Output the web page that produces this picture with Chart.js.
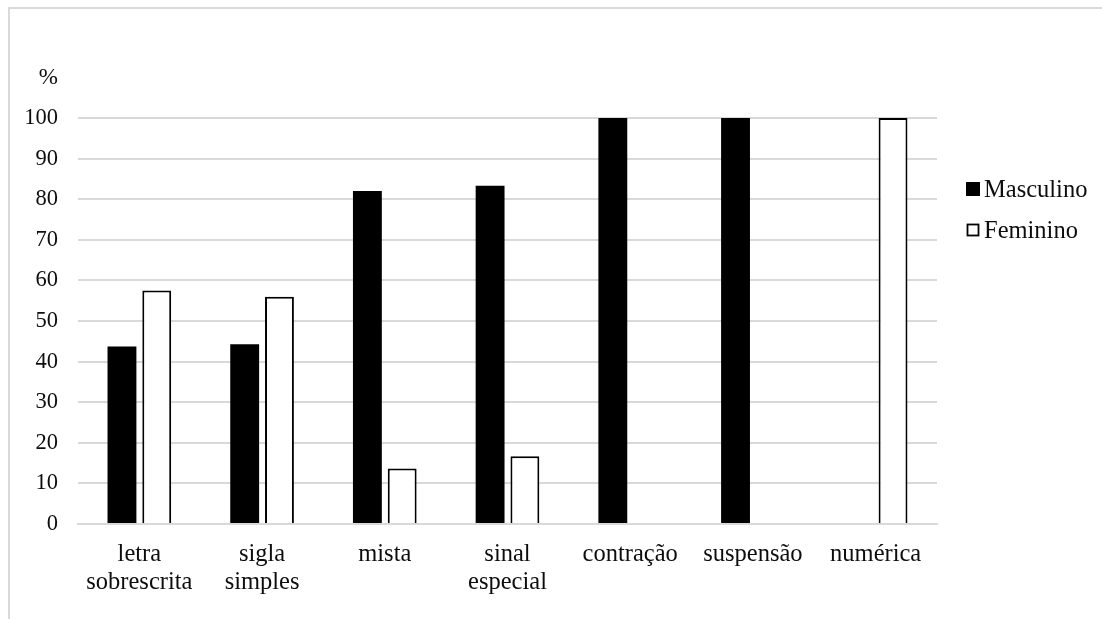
<!DOCTYPE html>
<html lang="pt">
<head>
<meta charset="utf-8">
<title>Abreviaturas por género</title>
<script src="https://cdn.jsdelivr.net/npm/chart.js@4/dist/chart.umd.min.js"></script>
<style>
  html, body { margin: 0; padding: 0; background: #fff; overflow: hidden; }
  #frame {
    position: absolute; left: 8px; top: 7px; width: 1300px; height: 800px;
    border-top: 2px solid #d9d9d9; border-left: 2px solid #d9d9d9;
    box-sizing: border-box;
  }
  #wrap { position: absolute; left: 0; top: 0; width: 1102px; height: 619px; }
</style>
</head>
<body>
<div id="frame"></div>
<div id="wrap"><canvas id="chart" width="1102" height="619"></canvas></div>
<script>
// Tipos de abreviatura (rótulos em duas linhas quando necessário)
const categories = [
  ['letra', 'sobrescrita'],
  ['sigla', 'simples'],
  ['mista'],
  ['sinal', 'especial'],
  ['contração'],
  ['suspensão'],
  ['numérica']
];

// Percentagens por género
const masculino = [43.7, 44.3, 82.0, 83.3, 100, 100, 0];
const feminino  = [57.5, 56.0, 13.7, 16.7, 0, 0, 100];

const seriesNames = ['Masculino', 'Feminino'];
const yTicks = [0, 10, 20, 30, 40, 50, 60, 70, 80, 90, 100];
const unitLabel = '%';

const FONT = '"Liberation Serif", "Times New Roman", serif';
const TEXT = '#0d0d0d';
const GRID = '#d9d9d9';

// Unidade "%" desenhada por cima da escala vertical
const unitPlugin = {
  id: 'unitLabel',
  afterDraw(chart) {
    const y = chart.scales.y;
    const top = yTicks[yTicks.length - 1];
    const step = y.getPixelForValue(yTicks[yTicks.length - 2]) - y.getPixelForValue(top);
    const ctx = chart.ctx;
    ctx.save();
    ctx.font = '23px ' + FONT;
    ctx.fillStyle = TEXT;
    ctx.textAlign = 'right';
    ctx.textBaseline = 'middle';
    ctx.fillText(unitLabel, y.right - 20, y.getPixelForValue(top) - step + 1);
    ctx.restore();
  }
};

// Legenda à direita da área do gráfico
const legendPlugin = {
  id: 'sideLegend',
  afterDraw(chart) {
    const ctx = chart.ctx;
    const area = chart.chartArea;
    const x0 = area.right + 29;
    ctx.save();
    ctx.font = '24.5px ' + FONT;
    ctx.textBaseline = 'alphabetic';
    ctx.textAlign = 'left';
    chart.data.datasets.forEach((ds, i) => {
      const cy = area.top + 71 + i * 41;
      if (i === 0) {
        ctx.fillStyle = ds.backgroundColor;
        ctx.fillRect(x0, cy - 7, 14, 14);
      } else {
        ctx.fillStyle = ds.backgroundColor;
        ctx.fillRect(x0 + 1, cy - 6, 12, 12);
        ctx.strokeStyle = ds.borderColor;
        ctx.lineWidth = 1.8;
        ctx.strokeRect(x0 + 1.5, cy - 5.5, 11, 11);
      }
      ctx.fillStyle = TEXT;
      ctx.fillText(ds.label, x0 + 18, cy + 8);
    });
    ctx.restore();
  }
};

new Chart(document.getElementById('chart'), {
  type: 'bar',
  data: {
    labels: categories,
    datasets: [
      {
        label: seriesNames[0],
        data: masculino,
        backgroundColor: '#000',
        borderColor: '#000',
        borderWidth: 0
      },
      {
        label: seriesNames[1],
        data: feminino,
        backgroundColor: '#fff',
        borderColor: '#000',
        borderWidth: ctx => (ctx.raw > 0 ? 2 : 0),
        borderSkipped: 'bottom'
      }
    ]
  },
  options: {
    responsive: false,
    animation: false,
    devicePixelRatio: 1,
    layout: { padding: { left: 25, right: 165, top: 118, bottom: 10 } },
    datasets: {
      bar: { categoryPercentage: 0.567, barPercentage: 0.83 }
    },
    plugins: {
      legend: { display: false },
      tooltip: { enabled: false }
    },
    scales: {
      x: {
        grid: { display: false, drawTicks: false },
        border: { display: true, color: GRID, width: 2 },
        ticks: {
          color: TEXT,
          font: { family: FONT, size: 24.5, lineHeight: 1.143 },
          padding: 17,
          maxRotation: 0,
          autoSkip: false
        },
        afterFit(scale) { scale.height = 85; }
      },
      y: {
        min: 0,
        max: 100,
        afterBuildTicks(scale) { scale.ticks = yTicks.map(v => ({ value: v })); },
        grid: { color: GRID, lineWidth: 2, drawTicks: false },
        border: { display: false },
        ticks: {
          color: TEXT,
          font: { family: FONT, size: 22.5 },
          padding: 20
        },
        afterFit(scale) { scale.width = 53; }
      }
    }
  },
  plugins: [unitPlugin, legendPlugin]
});
</script>
</body>
</html>
